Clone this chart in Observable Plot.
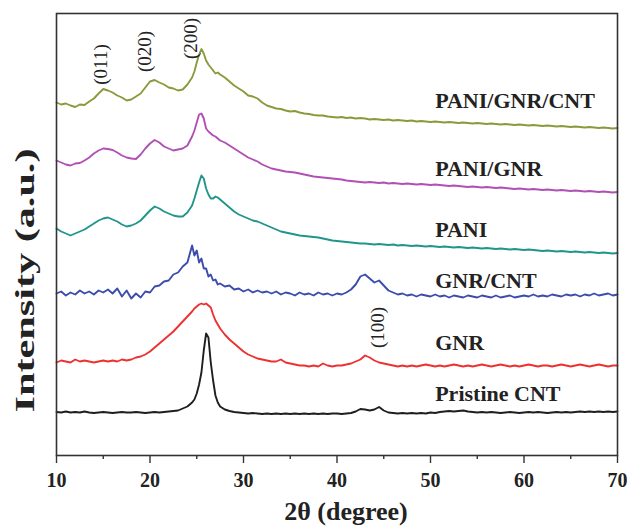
<!DOCTYPE html>
<html>
<head>
<meta charset="utf-8">
<script src="https://cdn.jsdelivr.net/npm/d3@7"></script>
<script src="https://cdn.jsdelivr.net/npm/@observablehq/plot@0.6"></script>
<style>
  html, body { margin: 0; padding: 0; background: #ffffff; }
  #chart { width: 630px; height: 529px; }
</style>
</head>
<body>
<div id="chart"></div>
<script>
// 2θ sampling grid (degrees)
const twoTheta = [
  10, 10.5, 11, 11.5, 12, 12.5, 13, 13.5, 14, 14.5, 15, 15.5, 16, 16.5, 17, 17.5, 18, 18.5, 19, 19.5,
  20, 20.5, 21, 21.5, 22, 22.5, 23, 23.5, 24, 24.5,
  24.75, 25, 25.25, 25.5, 25.75, 26, 26.25, 26.5, 26.75, 27, 27.25, 27.5,
  28, 28.5, 29, 29.5, 30, 30.5, 31, 31.5, 32, 32.5, 33, 33.5, 34, 34.5, 35, 35.5, 36, 36.5, 37, 37.5,
  38, 38.5, 39, 39.5, 40, 40.5, 41, 41.5, 42, 42.5, 43, 43.5, 44, 44.5, 45, 45.5, 46, 46.5, 47, 47.5,
  48, 48.5, 49, 49.5, 50, 50.5, 51, 51.5, 52, 52.5, 53, 53.5, 54, 54.5, 55, 55.5, 56, 56.5, 57, 57.5,
  58, 58.5, 59, 59.5, 60, 60.5, 61, 61.5, 62, 62.5, 63, 63.5, 64, 64.5, 65, 65.5, 66, 66.5, 67, 67.5,
  68, 68.5, 69, 69.5, 70
];

// Intensities (a.u., stacked with offsets as in the figure)
const pristineCNT = [
  43.5, 43, 44, 43, 43.5, 43, 44, 43, 42.5, 43, 43.5, 43, 42.5, 43, 43.5, 43, 43, 43.5, 43, 42.5,
  43, 43.5, 43, 43.5, 44, 44.5, 45, 47, 49, 53,
  56, 62, 71, 83, 105, 122, 118, 93, 75, 60, 53, 49,
  46, 44.5, 43.5, 43, 42.5, 42, 42.5, 42, 41.5, 42, 41.5, 42, 41.5, 42, 41.5, 42, 41.5, 42, 41.5, 42,
  41.5, 42, 41.5, 42, 42, 41.5, 42, 42.5, 44, 46.5, 46, 45, 46, 48.5, 45, 43, 42.5, 42, 42.5, 42,
  42.5, 42, 42.5, 42, 43, 42.5, 43.5, 44, 44.5, 44, 44.5, 45, 44, 43.5, 43, 43.5, 43, 43.5, 43, 42.5,
  43, 43.5, 43, 42.5, 43, 43.5, 43, 43.5, 43, 42.5, 43, 43.5, 43, 43.5, 43, 43.5, 44, 43.5, 44, 43.5,
  44, 43.5, 44, 43.5, 44
];
const gnr = [
  93, 95, 94, 93, 96, 94, 95, 94, 93, 94, 95, 94, 95, 94, 96, 95, 96, 98, 99, 101,
  104, 108, 112, 116, 120, 124, 129, 134, 139, 144,
  147, 149, 151, 152, 151, 152, 150, 148, 141, 135, 131, 127,
  121, 116, 112, 108, 104, 101, 99, 97, 96, 95, 94, 94, 96, 93, 92, 91, 90, 90, 89, 90,
  89, 92, 90, 89, 90, 90, 91, 92, 94, 96, 100, 98, 95, 93, 92, 91, 90, 89, 90, 89,
  90, 89, 90, 91, 90, 89, 90, 89, 90, 91, 90, 89, 90, 89, 90, 91, 90, 89, 90, 91,
  90, 89, 90, 89, 90, 91, 90, 89, 90, 90, 89, 90, 91, 90, 89, 90, 91, 90, 89, 90,
  91, 90, 89, 90, 90
];
const gnrCnt = [
  162, 164, 160, 163, 161, 165, 162, 164, 161, 165, 163, 166, 162, 167, 159, 165, 157, 162, 158, 164,
  163, 169, 170, 174, 175, 181, 183, 189, 193, 210,
  200, 205, 193, 197, 187, 187, 179, 181, 175, 176, 171, 172,
  169, 170, 166, 167, 164, 166, 163, 165, 163, 164, 162, 164, 161, 163, 162, 160, 163, 161, 162, 160,
  163, 161, 162, 160, 162, 161, 163, 166, 171, 179, 181, 177, 173, 175, 170, 165, 163, 161, 162, 160,
  161, 159, 161, 160, 159, 161, 159, 160, 158, 160, 159, 158, 160, 159, 158, 160, 159, 158, 160, 158,
  159, 160, 158, 159, 160, 159, 161, 159, 160, 159, 161, 160, 159, 161, 160, 161, 159, 161, 160, 162,
  160, 161, 162, 160, 161
];
const pani = [
  227, 224, 222, 220, 222, 224, 226, 229, 232, 235, 237, 238, 236, 234, 231, 229, 230, 232, 235, 240,
  245, 249, 247, 244, 242, 240, 239, 239, 243, 250,
  257, 265, 273, 280, 277, 267, 261, 257, 257, 259, 258, 256,
  252, 248, 244, 241, 239, 237, 235, 234, 232, 230, 228, 226, 224, 223, 222, 221, 220, 219.5, 219, 218.5,
  218, 217, 216, 215, 214.5, 214, 213.5, 213, 212.5, 212, 212, 211.5, 211, 211.5, 211, 210.5, 211, 210, 210.5, 210,
  209.5, 210, 209.5, 209, 209.5, 209, 208.5, 209, 208.5, 208, 208.5, 208, 207.5, 208, 207.5, 207, 207.5, 207, 206.5, 207,
  206.5, 206, 206.5, 206, 205.5, 206, 205.5, 205, 204.5, 205, 204.5, 204, 204.5, 204, 203.5, 204, 203.5, 203, 203.5, 203,
  202.5, 203, 202.5, 202, 202.5
];
const paniGnr = [
  295, 293, 291, 290, 292, 292.5, 295, 298, 302, 305, 307, 306.5, 305.5, 303, 300, 298, 297, 296.5, 301, 307,
  312, 315.5, 313, 309, 307, 305, 306, 307, 310, 319,
  325, 333, 341, 342, 337, 327, 324, 322, 320, 319, 317, 315,
  313, 310, 307, 304, 301, 298, 296, 294, 291, 289, 287, 286, 285, 284, 283.5, 283, 282, 281, 280, 279,
  278.5, 278, 277.5, 277, 276.5, 276, 275, 274.5, 274, 273.5, 273, 273.5, 273, 272.5, 273, 272, 272.5, 272, 271.5, 272,
  271.5, 271, 271.5, 271, 270.5, 271, 270.5, 270, 269.5, 270, 269.5, 269, 268.5, 269, 268.5, 268, 268.5, 268, 267.5, 268,
  267.5, 267, 266.5, 267, 266.5, 266, 266.5, 266, 265.5, 266, 265.5, 265, 265.5, 265, 264.5, 265, 264.5, 264, 264.5, 264,
  263.5, 264, 263.5, 263, 263.5
];
const paniGnrCnt = [
  353, 351, 352, 350, 348.5, 351, 350.5, 354, 357, 362, 366.5, 365, 363, 360, 358, 355, 356, 359, 362, 368,
  374, 375.5, 373, 371, 368, 367, 365, 366, 371, 378,
  384, 393, 401, 406.5, 402, 395, 391, 388, 385, 382, 383, 381,
  378, 374, 370, 367, 364, 360, 359, 357, 353, 350, 348.5, 347, 346.5, 345, 344, 344.5, 343, 342, 341.5, 340.5,
  340, 340, 339, 338.5, 338, 338.5, 337.5, 338, 337, 337.5, 337, 336, 336.5, 336, 335.5, 336, 335, 335.5, 335, 334.5,
  335, 334, 334.5, 334, 333.5, 334, 333.5, 333, 333.5, 333, 332.5, 333, 332.5, 332, 332.5, 332, 331.5, 332, 331.5, 331,
  331.5, 331, 330.5, 331, 330.5, 330, 330.5, 330, 329.5, 330, 329.5, 329, 329.5, 329, 328.5, 329, 328.5, 328, 328.5, 328,
  327.5, 328, 327.5, 327, 327.5
];

const seriesNames = ["Pristine CNT", "GNR", "GNR/CNT", "PANI", "PANI/GNR", "PANI/GNR/CNT"];
const seriesValues = [pristineCNT, gnr, gnrCnt, pani, paniGnr, paniGnrCnt];
const seriesColors = ["#1e1e1e", "#ee3030", "#3a4dac", "#20958b", "#b050b4", "#8a9a3a"];
const labelLevel = [61.5, 112.5, 174.5, 225.5, 286.5, 355];
const labelTheta = 50.5;

const peakNames = ["(011)", "(020)", "(200)", "(100)"];
const peakTheta = [14.7, 19.5, 24.35, 44.4];
const peakLevel = [391, 404, 417, 128];

const xTicks = [10, 20, 30, 40, 50, 60, 70];
const xMinorTicks = [15, 25, 35, 45, 55, 65];
const xTitle = "2θ (degree)";
const yTitle = "Intensity (a.u.)";

const rows = [];
seriesNames.forEach((name, i) => {
  twoTheta.forEach((t, j) => rows.push({t, v: seriesValues[i][j], name}));
});
const labelRows = seriesNames.map((name, i) => ({name, t: labelTheta, v: labelLevel[i]}));
const peakRows = peakNames.map((name, i) => ({name, t: peakTheta[i], v: peakLevel[i]}));

const serif = "'Liberation Serif', 'Times New Roman', serif";

const chart = Plot.plot({
  width: 630,
  height: 529,
  marginLeft: 56,
  marginRight: 13,
  marginTop: 13,
  marginBottom: 74,
  x: {domain: [10, 70]},
  y: {domain: [0, 442], axis: null},
  color: {domain: seriesNames, range: seriesColors},
  style: {fontFamily: serif, background: "#ffffff", color: "#222", overflow: "visible"},
  marks: [
    Plot.line(rows, {x: "t", y: "v", z: "name", stroke: "name", strokeWidth: 1.9, strokeLinejoin: "round"}),
    Plot.frame({stroke: "#333", strokeWidth: 1.6}),
    Plot.axisX({ticks: xTicks, tickSize: 8, tickPadding: 9, tickFormat: d => String(d), fontSize: 20, fontWeight: "bold", label: null, stroke: "#333", strokeWidth: 1.4, fill: "#222"}),
    Plot.axisX({ticks: xMinorTicks, tickSize: 4, tickFormat: () => "", label: null, stroke: "#333", strokeWidth: 1.4}),
    Plot.text([xTitle], {frameAnchor: "bottom", dx: 9, dy: 56, fontSize: 26, fontWeight: "bold", fill: "#222", lineAnchor: "middle"}),
    Plot.text([yTitle], {frameAnchor: "left", rotate: -90, textAnchor: "start", dx: -31, dy: 178, fontSize: 28, fontWeight: "bold", fill: "#222", lineAnchor: "middle"}),
    Plot.text(labelRows, {x: "t", y: "v", text: "name", textAnchor: "start", lineAnchor: "middle", fontSize: 22, fontWeight: "bold", fill: "#222"}),
    Plot.text(peakRows, {x: "t", y: "v", text: "name", rotate: -90, lineAnchor: "middle", fontSize: 19, fill: "#222"})
  ]
});

d3.select(chart).selectAll("text").each(function() {
  if (this.textContent === yTitle) {
    this.setAttribute("textLength", 264);
    this.setAttribute("lengthAdjust", "spacingAndGlyphs");
  }
});

document.getElementById("chart").appendChild(chart);
</script>
</body>
</html>
